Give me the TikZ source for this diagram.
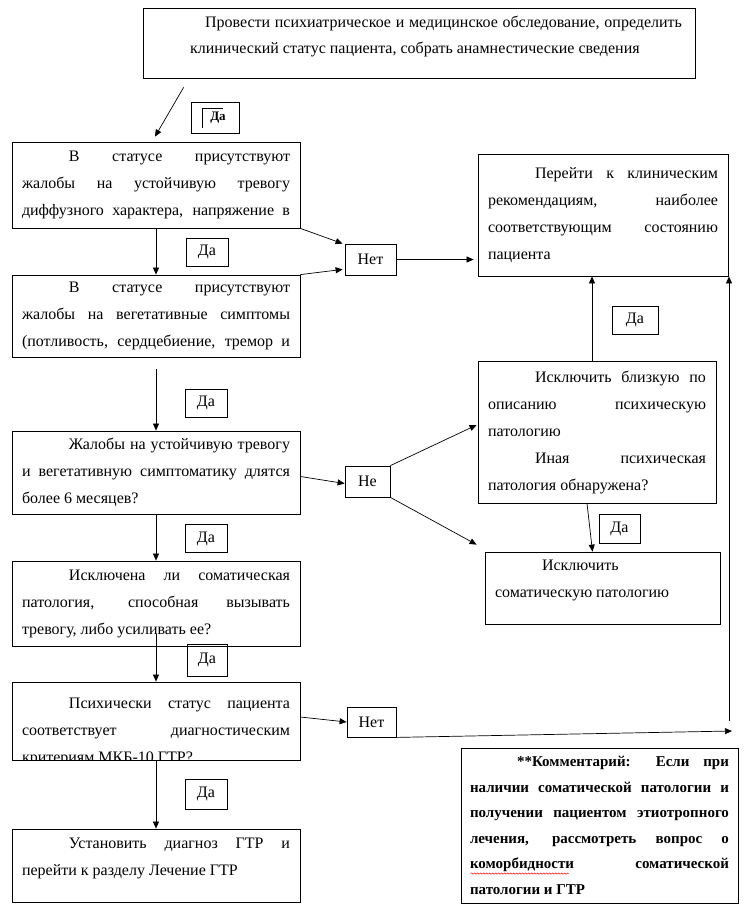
\documentclass[tikz,border=0pt]{standalone}
\usepackage{fontspec}
\setmainfont{Liberation Serif}
\usetikzlibrary{arrows.meta,positioning,decorations.pathmorphing}

\newcommand{\abz}{\hspace*{47pt}}

\begin{document}
\begin{tikzpicture}[
    x=1pt, y=-1pt,
    box/.style={
        rectangle,
        draw=black,
        line width=0.8pt,
        text width=#1,
        inner xsep=10pt,
        inner ysep=0pt,
        align=justify,
        font=\fontsize{16}{27}\selectfont
    },
    tag/.style={
        rectangle,
        draw=black,
        line width=0.8pt,
        inner sep=0pt,
        minimum width=#1,
        minimum height=28pt,
        font=\fontsize{16}{19}\selectfont
    },
    tag/.default=42pt,
    arr/.style={
        -{Triangle[length=7pt,width=6pt]},
        line width=0.7pt
    }
]
\useasboundingbox (0,0) rectangle (751,908);

% Examination
\node[box=526pt, inner xsep=13pt, minimum height=70pt,
      font=\fontsize{16}{26}\selectfont] (exam) at (419,43) {
    \leftskip=34pt\hspace*{15pt}Провести психиатрическое и медицинское обследование, определить\linebreak
    клинический статус пациента, собрать анамнестические сведения\rule[-16pt]{0pt}{16pt}\par
};

% Left column
\node[box=268pt, minimum height=86pt] (anx) at (156,185) {
    \parfillskip=0pt\abz В статусе присутствуют\linebreak
    жалобы на устойчивую тревогу\linebreak
    диффузного характера, напряжение в\par
};
\node[box=268pt, minimum height=82pt] (veg) at (156,316) {
    \parfillskip=0pt\abz В статусе присутствуют\linebreak
    жалобы на вегетативные симптомы\linebreak
    (потливость, сердцебиение, тремор и\par
};
\node[box=268pt, minimum height=83pt] (dur) at (156,472.5) {
    \abz Жалобы на устойчивую тревогу\linebreak
    и вегетативную симптоматику длятся\linebreak
    более 6 месяцев?
};
\node[box=268pt, minimum height=85pt] (som) at (156,603.5) {
    \abz Исключена ли соматическая\linebreak
    патология, способная вызывать\linebreak
    тревогу, либо усиливать ее?
};
\node[box=268pt, minimum height=78pt] (icd) at (156,721) {
    \raisebox{-41pt}[39pt][39pt]{\parbox[b]{268pt}{%
    \abz Психически статус пациента\linebreak
    соответствует диагностическим\linebreak
    критериям МКБ-10 ГТР?}}
};
% text runs under the lower edge
\fill[white] ([yshift=-0.5pt]icd.south west) rectangle ([yshift=-9pt]icd.south east);
\node[box=268pt, minimum height=73pt] (diag) at (156,865.5) {
    \abz Установить диагноз ГТР и\linebreak
    перейти к разделу Лечение ГТР\rule[-17pt]{0pt}{17pt}
};

% Right column
\node[box=230pt, minimum height=122pt] (clin) at (603,215) {
    \abz Перейти к клиническим\linebreak
    рекомендациям, наиболее\linebreak
    соответствующим состоянию\linebreak
    пациента
};
\node[box=218pt, minimum height=142pt] (psy) at (597,432) {
    \abz Исключить близкую по\linebreak
    описанию психическую\linebreak
    патологию\par
    \abz Иная психическая\linebreak
    патология обнаружена?
};
\node[box=215pt, minimum height=72pt] (excl) at (602.5,588) {
    \abz Исключить\newline
    соматическую патологию\rule[-18pt]{0pt}{18pt}
};
\node[box=259pt, inner xsep=9pt, minimum height=155pt,
      font=\fontsize{15}{25.6}\selectfont\bfseries] (cmt) at (599.5,825.5) {
    \abz **Комментарий: Если при\linebreak
    наличии соматической патологии и\linebreak
    получении пациентом этиотропного\linebreak
    лечения, рассмотреть вопрос о\linebreak
    коморбидности соматической\linebreak
    патологии и ГТР
};

% Answers
\node[tag=48pt, minimum height=31pt,
      font=\fontsize{13}{15}\selectfont\bfseries] (da0) at (215,117.5) {\hspace*{6pt}\raisebox{-4pt}{Да}};
\draw[line width=1.6pt] ([xshift=12pt,yshift=5pt]da0.south west)
    |- ([xshift=-16pt,yshift=-7pt]da0.north east);
\node[tag] (da1) at (207,252) {Да};
\node[tag=51pt, minimum height=31pt] (net1) at (370.5,259.5) {Нет};
\node[tag] (da2) at (206,403) {Да};
\node[tag=45pt, minimum height=31pt] (ne) at (367.5,481.5) {Не};
\node[tag] (da3) at (206,538.5) {Да};
\node[tag=40pt, minimum height=32pt] (da4) at (207,660) {Да};
\node[tag=49pt, minimum height=30pt] (net2) at (371.5,722) {Нет};
\node[tag, minimum height=30pt] (da5) at (206,794) {Да};
\node[tag=46pt] (daA) at (635,320) {Да};
\node[tag=41pt, minimum height=29pt] (daC) at (619.5,528.5) {Да};

\coordinate (nob) at (732,731);
\coordinate (upfoot) at (729,721);

% Connectors
\draw[arr] ([xshift=41pt,yshift=-9pt]exam.south west) -- ([xshift=-1pt,yshift=5pt]anx.north);
\draw[arr] (anx.south) -- (veg.north);
\draw[arr] (anx.south east) -- ([xshift=-2pt]net1.north west);
\draw[arr] (veg.north east) -- ([xshift=-2pt,yshift=6pt]net1.south west);
\draw[arr, shorten >=4pt] (net1.east) -- (net1.east -| clin.west);
\draw[arr, shorten <=12pt] (veg.south) -- (dur.north);
\draw[arr] (dur.south) -- (som.north);
\draw[arr] ([yshift=-4pt]dur.east) -- ([yshift=-2pt]ne.west);
\draw[arr] (ne.north east) -- ([xshift=-1pt,yshift=7pt]psy.west);
\draw[arr] (ne.south east) -- ([xshift=-8pt,yshift=7pt]excl.north west);
\draw[arr] ([xshift=-10pt]psy.south) -- ([xshift=-10pt]excl.north);
\draw[arr] ([xshift=-5pt]psy.north) -- ([xshift=-5pt]psy.north |- clin.south);
\draw[arr] ([yshift=12pt]som.south) -- (icd.north);
\draw[arr] ([yshift=4pt]icd.east) -- (net2.west);
\draw[arr] (net2.south east) -- (nob);
\draw[arr] (upfoot) -- (upfoot |- clin.south);
\draw[arr] (icd.south) -- (diag.north);

% spelling mark
\draw[red, line width=0.5pt, decorate,
      decoration={snake, amplitude=0.7pt, segment length=3pt}]
    ([xshift=10pt,yshift=-126pt]cmt.north west) -- ++(98,0);

\end{tikzpicture}
\end{document}
